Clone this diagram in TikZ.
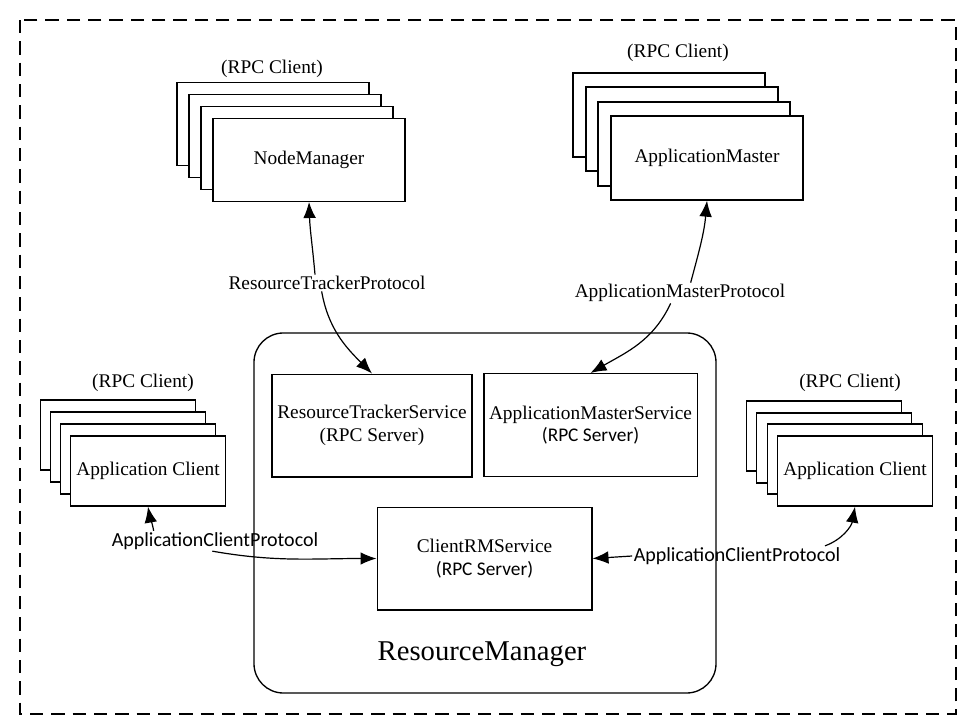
\documentclass[tikz,border=0pt]{standalone}
\usepackage{fontspec}
\setmainfont{Liberation Serif}
\newfontfamily\protofont{Carlito}
\usepackage{tikz}
\usetikzlibrary{arrows.meta}

\begin{document}
\begin{tikzpicture}[x=0.75pt, y=-0.75pt,
    font=\fontsize{14.5}{17}\selectfont,
    clientbox/.style={draw=black, fill=white, line width=1pt, inner sep=0pt, minimum width=144pt, minimum height=62pt},
    appbox/.style={clientbox, minimum width=116pt, minimum height=52.5pt},
    servicebox/.style={draw=black, line width=1pt, align=center, inner sep=0pt, minimum height=77pt},
    protocol/.style={inner sep=1pt},
    sansproto/.style={protocol, font=\protofont\fontsize{15}{17}\selectfont},
    link/.style={-{Latex[length=12pt,width=9.5pt]}, line width=0.9pt}]

      \useasboundingbox (0,0) rectangle (976,728);

      % outer frame
      \draw[dash pattern=on 10pt off 6pt, line width=1.4pt, black] (20,20) rectangle (956,714);

      % ResourceManager
      \node[draw=black, line width=1pt, rounded corners=22pt, minimum width=346.5pt, minimum height=270pt] (rm) at (485,513) {};
      \node (rmname) at (482,654) {\fontsize{21.5}{24}\selectfont ResourceManager};

      % NodeManager stack
      \node[clientbox] (nm4) at (273,124) {};
      \node[clientbox] (nm3) at (285,136) {};
      \node[clientbox] (nm2) at (297,148) {};
      \node[clientbox] (nm) at (309,160) {NodeManager};
      \node (nmrpc) at (272,69) {(RPC Client)};

      % ApplicationMaster stack
      \node[clientbox, minimum height=63pt] (am4) at (669,115) {};
      \node[clientbox, minimum height=63pt] (am3) at (682,129) {};
      \node[clientbox, minimum height=63pt] (am2) at (694,144) {};
      \node[clientbox, minimum height=63pt] (am) at (707,158) {ApplicationMaster};
      \node (amrpc) at (678,53) {(RPC Client)};

      % Application Client stacks
      \node[appbox] (acl4) at (118,435) {};
      \node[appbox] (acl3) at (128,447) {};
      \node[appbox] (acl2) at (138,459) {};
      \node[appbox] (acl) at (148,471) {Application Client};
      \node (aclrpc) at (143,383) {(RPC Client)};

      \node[appbox] (acr4) at (824,436) {};
      \node[appbox] (acr3) at (834,448) {};
      \node[appbox] (acr2) at (845,459) {};
      \node[appbox] (acr) at (855,471) {Application Client};
      \node (acrrpc) at (850,383) {(RPC Client)};

      % services
      \node[servicebox, minimum width=150pt] (rts) at (372,425.5) {ResourceTrackerService\\(RPC Server)};
      \node[servicebox, minimum width=160pt] (ams) at (590.5,425) {ApplicationMasterService\\{\protofont (RPC Server)}};
      \node[servicebox, minimum width=161pt] (crm) at (484.5,558.5) {ClientRMService\\{\protofont (RPC Server)}};

      % protocols
      \node[protocol] (rtp) at (327,283) {ResourceTrackerProtocol};
      \node[protocol] (amp) at (680,293) {ApplicationMasterProtocol};
      \node[sansproto] (acpl) at (215,541) {ApplicationClientProtocol};
      \node[sansproto] (acpr) at (737,556) {ApplicationClientProtocol};

      \draw[link] ([xshift=-9pt]rtp.north) to[out=95, in=-88] (nm.south);
      \draw[link] ([xshift=-4pt]rtp.south) to[out=-80, in=135] (rts.north);

      \draw[link] ([xshift=8pt]amp.north) to[out=75, in=-95] (am.south);
      \draw[link] ([xshift=-7pt]amp.south) to[out=-115, in=30] (ams.north);

      \draw[link] ([xshift=-46pt]acpl.north) to[out=100, in=-80] (acl.south);
      \draw[link] ([xshift=-2pt]acpl.south) to[out=-10, in=180] (crm.west);

      \draw[link] (acpr.west) -- (crm.east);
      \draw[link] ([xshift=66pt]acpr.north) to[out=20, in=-100] (acr.south);
    \end{tikzpicture}
\end{document}
